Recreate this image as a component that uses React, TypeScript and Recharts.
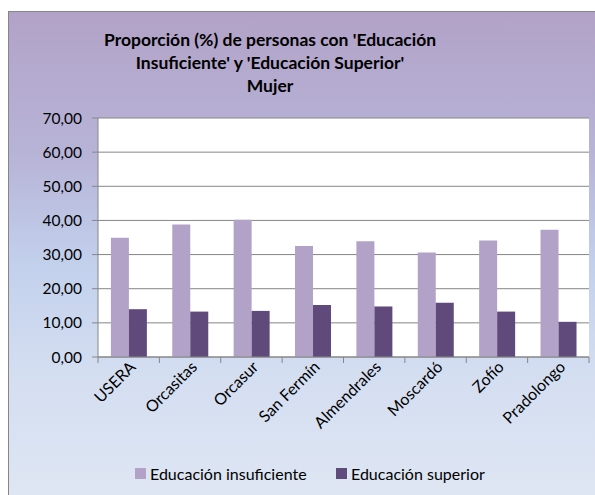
import React from 'react';
import { BarChart, Bar, XAxis, YAxis, CartesianGrid, Legend } from 'recharts';

const categories = ['USERA', 'Orcasitas', 'Orcasur', 'San Fermín', 'Almendrales', 'Moscardó', 'Zofío', 'Pradolongo'];
const insuficiente = [34.9, 38.8, 40.2, 32.5, 33.9, 30.6, 34.1, 37.3];
const superior = [14.0, 13.3, 13.5, 15.2, 14.8, 15.9, 13.3, 10.3];
const yTicks = [0, 10, 20, 30, 40, 50, 60, 70];
const titleLines = ["Proporción (%) de personas con 'Educación", "Insuficiente' y 'Educación Superior'", 'Mujer'];

const LIGHT = '#B3A2C7';
const DARK = '#604A7B';
const AXIS = '#868686';
const FONT = "Lato, 'Open Sans', sans-serif";

const data = categories.map((name, i) => ({
  name,
  insuficiente: insuficiente[i],
  superior: superior[i],
}));

const fmt = (v: number) => v.toFixed(2).replace('.', ',');

// ticks sit between categories, label rotated -45 under the center
const XTick = (props: any) => {
  const { x, y, payload, index } = props;
  const half = payload.offset || 30.7;
  return (
    <g>
      <line x1={x - half} x2={x - half} y1={y} y2={y + 6} stroke={AXIS} />
      {index === categories.length - 1 && (
        <line x1={x + half} x2={x + half} y1={y} y2={y + 6} stroke={AXIS} />
      )}
      <text
        transform={`translate(${x + 8},${y + 11}) rotate(-45)`}
        textAnchor="end"
        fontSize={16}
        fontFamily={FONT}
        fill="#000"
      >
        {payload.value}
      </text>
    </g>
  );
};

const renderLegend = () => (
  <div style={{ display: 'flex', alignItems: 'center', fontFamily: FONT, fontSize: 16, color: '#000' }}>
    <div style={{ display: 'flex', alignItems: 'center', width: 201 }}>
      <span style={{ width: 11, height: 11, background: LIGHT, marginRight: 4 }} />
      <span>Educación insuficiente</span>
    </div>
    <span style={{ width: 11, height: 11, background: DARK, marginRight: 4 }} />
    <span>Educación superior</span>
  </div>
);

export default function App() {
  return (
    <div
      style={{
        position: 'absolute',
        left: 8,
        top: 11,
        width: 587,
        height: 484,
        boxSizing: 'border-box',
        borderLeft: '1px solid #868686',
        borderTop: '1px solid #868686',
        background: 'linear-gradient(180deg, #B2A2C7 0%, #B7B4D8 30%, #C2D0EC 52%, #D4DEF1 75%, #DEE6F3 100%)',
        overflow: 'hidden',
      }}
    >
      <div
        style={{
          position: 'absolute',
          left: 0,
          top: 16,
          width: 522,
          textAlign: 'center',
          fontFamily: FONT,
          fontWeight: 700,
          fontSize: 17.5,
          lineHeight: '23px',
          color: '#000',
        }}
      >
        {titleLines.map((t) => (
          <div key={t}>{t}</div>
        ))}
      </div>
      <div style={{ position: 'absolute', left: 0, top: 0 }}>
        <BarChart
          width={586}
          height={483}
          data={data}
          margin={{ top: 106, right: 6, left: 0, bottom: 0 }}
          barCategoryGap="21%"
          barGap={0}
        >
          <CartesianGrid vertical={false} stroke={AXIS} fill="#fff" />
          <XAxis
            dataKey="name"
            height={138}
            interval={0}
            tickLine={false}
            tickSize={0}
            tickMargin={0}
            stroke={AXIS}
            tick={<XTick />}
          />
          <YAxis
            width={89}
            domain={[0, 70]}
            ticks={yTicks}
            tickFormatter={fmt}
            tickSize={6}
            tickMargin={10}
            stroke={AXIS}
            tick={{ fill: '#000', fontSize: 15.5, fontFamily: FONT }}
          />
          <Legend
            layout="horizontal"
            verticalAlign="middle"
            align="center"
            content={renderLegend}
            wrapperStyle={{ top: 452, left: 126, width: 'auto' }}
          />
          <Bar dataKey="insuficiente" name="Educación insuficiente" fill={LIGHT} isAnimationActive={false} />
          <Bar dataKey="superior" name="Educación superior" fill={DARK} isAnimationActive={false} />
        </BarChart>
      </div>
    </div>
  );
}
